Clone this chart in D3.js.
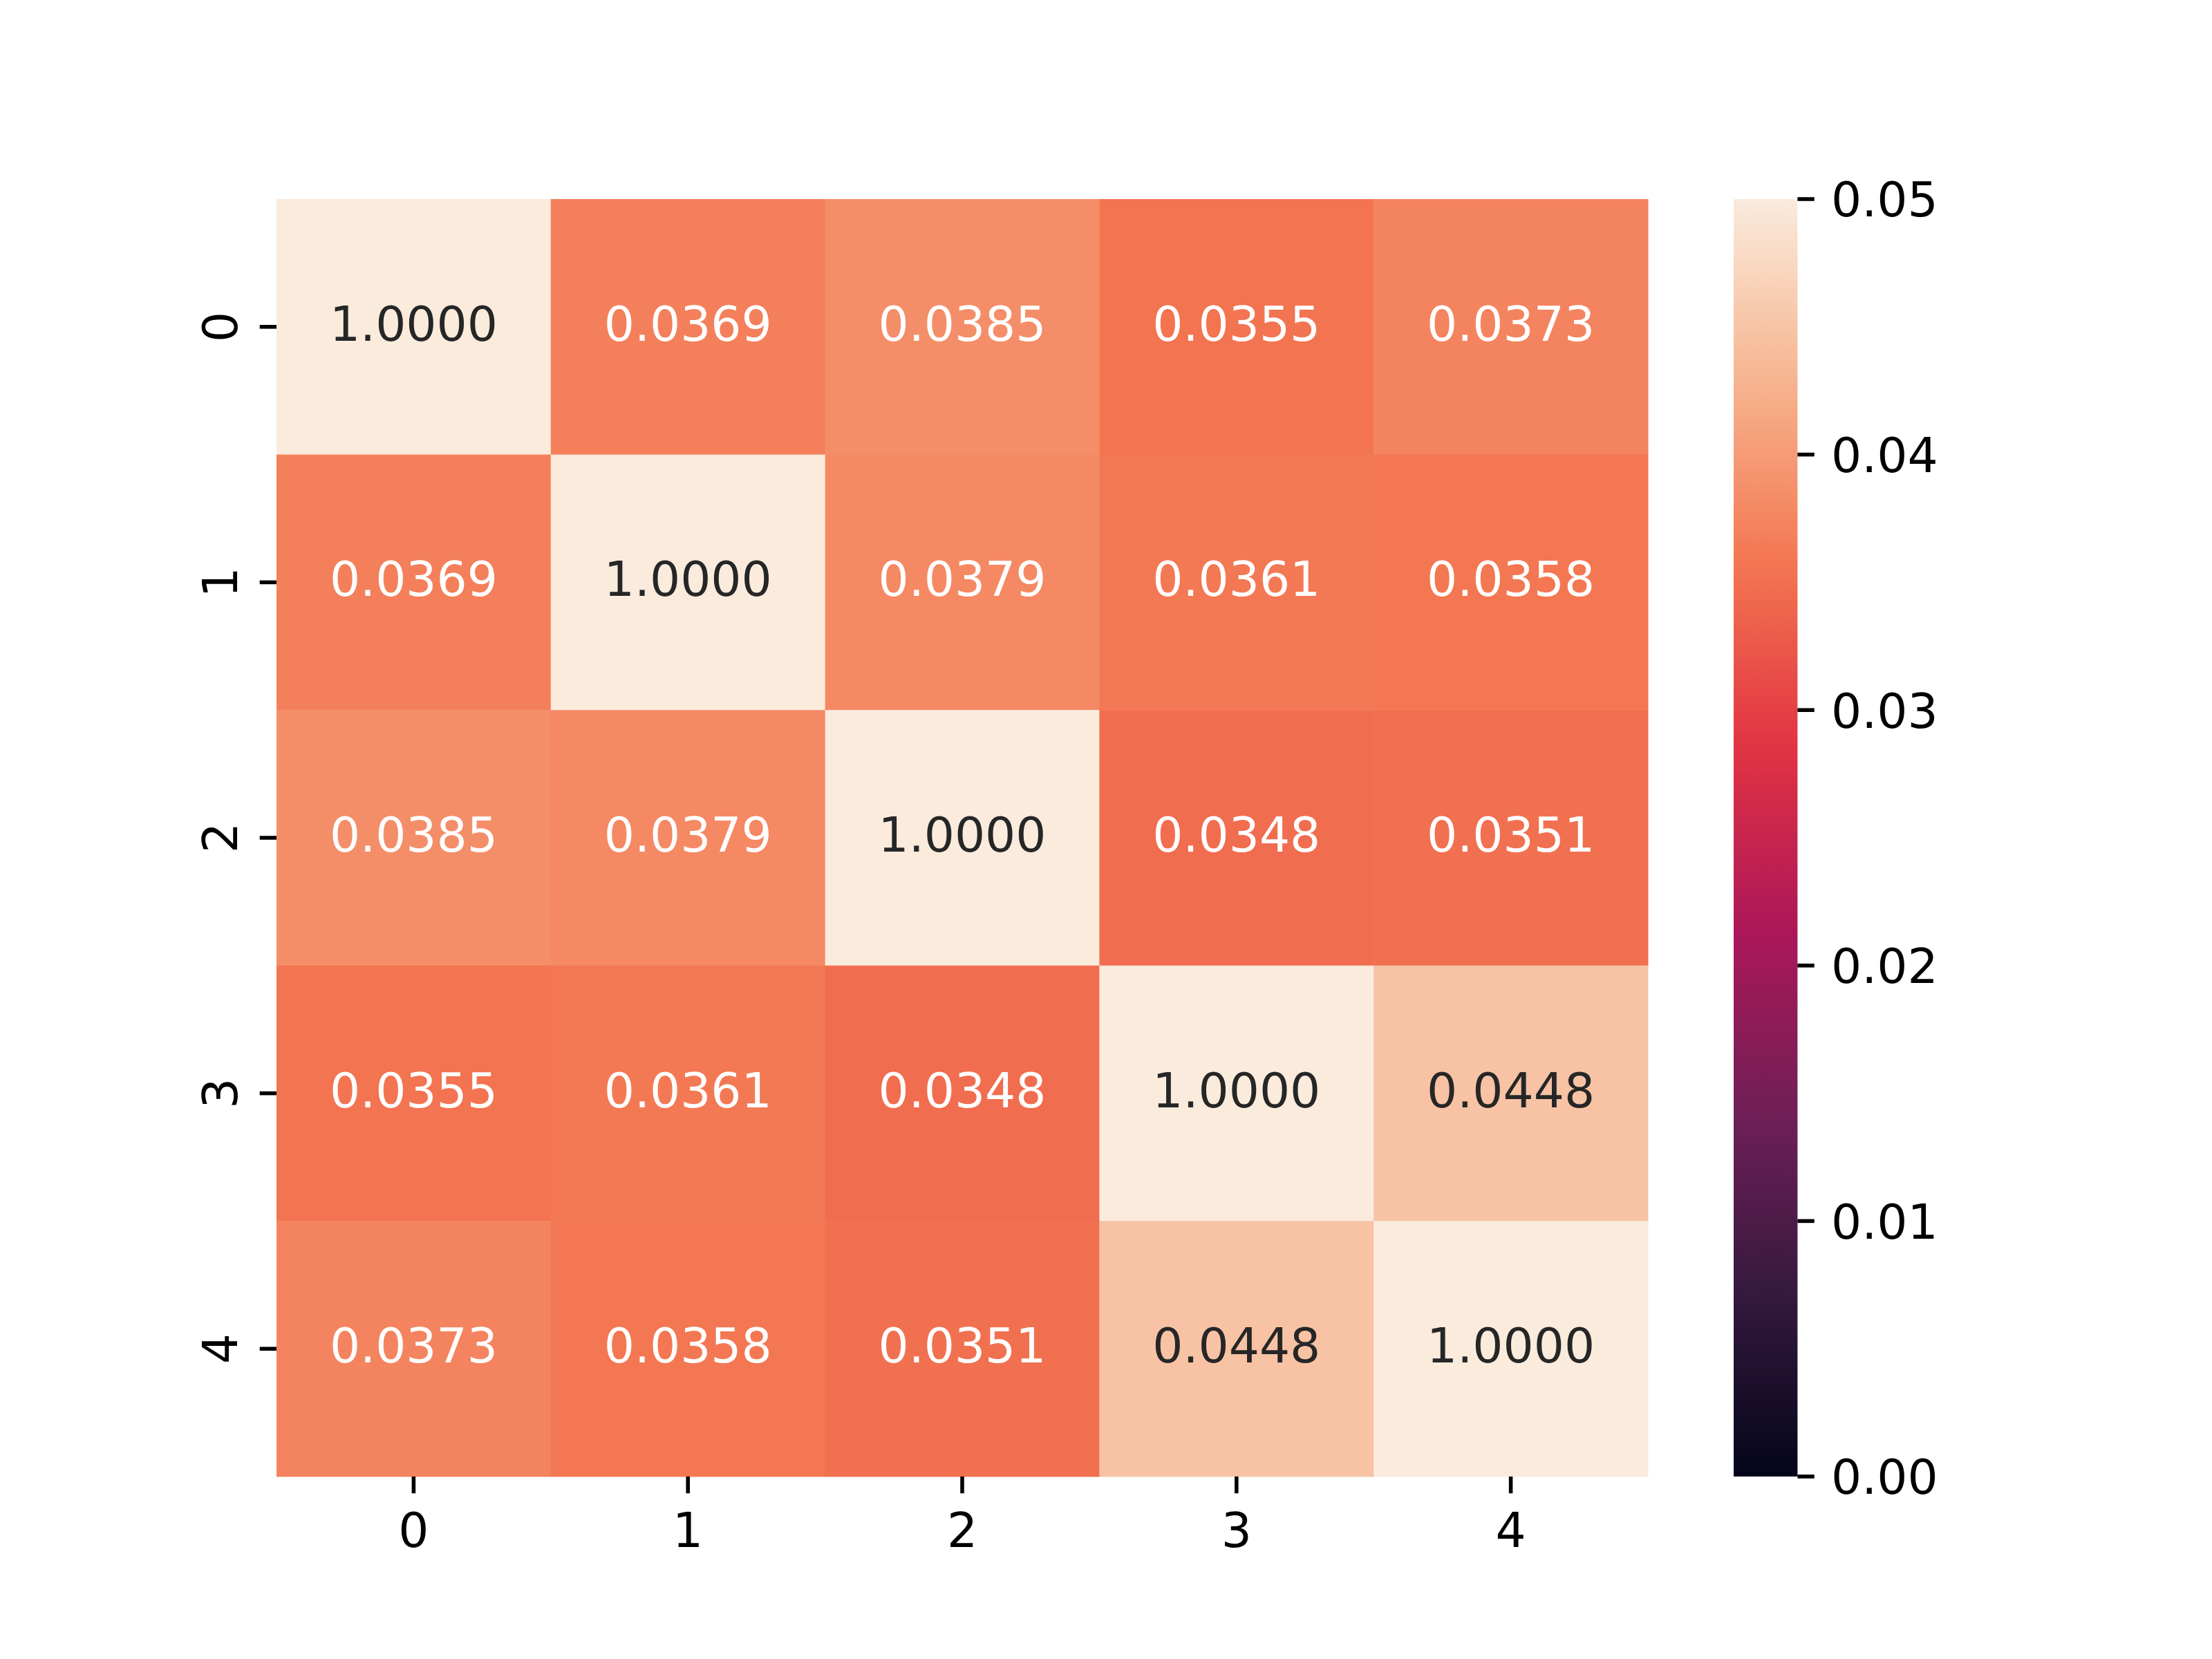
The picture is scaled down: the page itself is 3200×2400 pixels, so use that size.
<!DOCTYPE html>
<html>
<head>
<meta charset="utf-8">
<script src="https://cdn.jsdelivr.net/npm/d3@7"></script>
<style>
  body { margin: 0; background: #fff; }
  text { font-family: "DejaVu Sans", sans-serif; }
</style>
</head>
<body>
<div id="chart"></div>
<script>
// data
var rowLabels = ["0", "1", "2", "3", "4"];
var colLabels = ["0", "1", "2", "3", "4"];
var values = [
  [1.0000, 0.0369, 0.0385, 0.0355, 0.0373],
  [0.0369, 1.0000, 0.0379, 0.0361, 0.0358],
  [0.0385, 0.0379, 1.0000, 0.0348, 0.0351],
  [0.0355, 0.0361, 0.0348, 1.0000, 0.0448],
  [0.0373, 0.0358, 0.0351, 0.0448, 1.0000]
];
var colorTicks = [0.00, 0.01, 0.02, 0.03, 0.04, 0.05];
var vmin = 0, vmax = 0.05;

// rocket colormap stops
var rocketStops = [0, 1/7, 2/7, 3/7, 4/7, 5/7, 6/7, 1];
var rocketColors = ["#03051a", "#35193e", "#701f57", "#ad1759", "#e13342", "#f37651", "#f6b48f", "#faebdd"];

var width = 3200, height = 2400;
var margin = { top: 288, left: 400 },
    plotW = 1984, plotH = 1848;
var fs = 69.44, tickLen = 24.3, tickPad = 24.3, tickW = 5.56;

var svg = d3.select("#chart").append("svg")
    .attr("width", width)
    .attr("height", height);

var rocket = d3.scaleLinear()
    .domain(rocketStops)
    .range(rocketColors)
    .interpolate(d3.interpolateRgb)
    .clamp(true);
var norm = d3.scaleLinear().domain([vmin, vmax]).range([0, 1]).clamp(true);
function color(v) { return rocket(norm(v)); }

function luminance(c) {
  var rgb = d3.rgb(c);
  var lin = [rgb.r, rgb.g, rgb.b].map(function (x) {
    x = x / 255;
    return x <= 0.03928 ? x / 12.92 : Math.pow((x + 0.055) / 1.055, 2.4);
  });
  return 0.2126 * lin[0] + 0.7152 * lin[1] + 0.0722 * lin[2];
}

var x = d3.scaleBand().domain(colLabels).range([margin.left, margin.left + plotW]);
var y = d3.scaleBand().domain(rowLabels).range([margin.top, margin.top + plotH]);

var cells = [];
values.forEach(function (row, i) {
  row.forEach(function (v, j) {
    cells.push({ r: rowLabels[i], c: colLabels[j], v: v });
  });
});

var g = svg.append("g");
g.selectAll("rect.cell")
    .data(cells)
    .enter().append("rect")
    .attr("class", "cell")
    .attr("x", function (d) { return x(d.c); })
    .attr("y", function (d) { return y(d.r); })
    .attr("width", x.bandwidth() + 0.5)
    .attr("height", y.bandwidth() + 0.5)
    .attr("fill", function (d) { return color(d.v); });

g.selectAll("text.annot")
    .data(cells)
    .enter().append("text")
    .attr("class", "annot")
    .attr("x", function (d) { return x(d.c) + x.bandwidth() / 2; })
    .attr("y", function (d) { return y(d.r) + y.bandwidth() / 2 + 20; })
    .attr("text-anchor", "middle")
    .attr("font-size", fs)
    .attr("fill", function (d) { return luminance(color(d.v)) > 0.408 ? "#262626" : "#ffffff"; })
    .text(function (d) { return d.v.toFixed(4); });

// x axis
var xa = svg.append("g");
xa.selectAll("line")
    .data(colLabels)
    .enter().append("line")
    .attr("x1", function (d) { return x(d) + x.bandwidth() / 2; })
    .attr("x2", function (d) { return x(d) + x.bandwidth() / 2; })
    .attr("y1", margin.top + plotH)
    .attr("y2", margin.top + plotH + tickLen)
    .attr("stroke", "#000")
    .attr("stroke-width", tickW);
xa.selectAll("text")
    .data(colLabels)
    .enter().append("text")
    .attr("x", function (d) { return x(d) + x.bandwidth() / 2; })
    .attr("y", margin.top + plotH + tickLen + tickPad + 53)
    .attr("text-anchor", "middle")
    .attr("font-size", fs)
    .attr("fill", "#000")
    .text(function (d) { return d; });

// y axis (vertical labels)
var ya = svg.append("g");
ya.selectAll("line")
    .data(rowLabels)
    .enter().append("line")
    .attr("x1", margin.left - tickLen)
    .attr("x2", margin.left)
    .attr("y1", function (d) { return y(d) + y.bandwidth() / 2; })
    .attr("y2", function (d) { return y(d) + y.bandwidth() / 2; })
    .attr("stroke", "#000")
    .attr("stroke-width", tickW);
ya.selectAll("text")
    .data(rowLabels)
    .enter().append("text")
    .attr("transform", function (d) {
      return "translate(" + (margin.left - tickLen - tickPad - 8) + "," + (y(d) + y.bandwidth() / 2) + ") rotate(-90)";
    })
    .attr("text-anchor", "middle")
    .attr("font-size", fs)
    .attr("fill", "#000")
    .text(function (d) { return d; });

// colorbar
var cbX = 2508, cbW = 92.4;
var cbScale = d3.scaleLinear().domain([vmin, vmax]).range([margin.top + plotH, margin.top]);
var defs = svg.append("defs");
var grad = defs.append("linearGradient")
    .attr("id", "cbgrad")
    .attr("x1", 0).attr("y1", 1).attr("x2", 0).attr("y2", 0);
grad.selectAll("stop")
    .data(d3.range(0, 1.0001, 0.02))
    .enter().append("stop")
    .attr("offset", function (d) { return d; })
    .attr("stop-color", function (d) { return rocket(d); });
svg.append("rect")
    .attr("x", cbX)
    .attr("y", margin.top)
    .attr("width", cbW)
    .attr("height", plotH)
    .attr("fill", "url(#cbgrad)");

var cb = svg.append("g");
cb.selectAll("line")
    .data(colorTicks)
    .enter().append("line")
    .attr("x1", cbX + cbW)
    .attr("x2", cbX + cbW + tickLen)
    .attr("y1", function (d) { return cbScale(d); })
    .attr("y2", function (d) { return cbScale(d); })
    .attr("stroke", "#000")
    .attr("stroke-width", tickW);
cb.selectAll("text")
    .data(colorTicks)
    .enter().append("text")
    .attr("x", cbX + cbW + tickLen + tickPad)
    .attr("y", function (d) { return cbScale(d) + 25.3; })
    .attr("font-size", fs)
    .attr("fill", "#000")
    .text(function (d) { return d.toFixed(2); });
</script>
</body>
</html>
